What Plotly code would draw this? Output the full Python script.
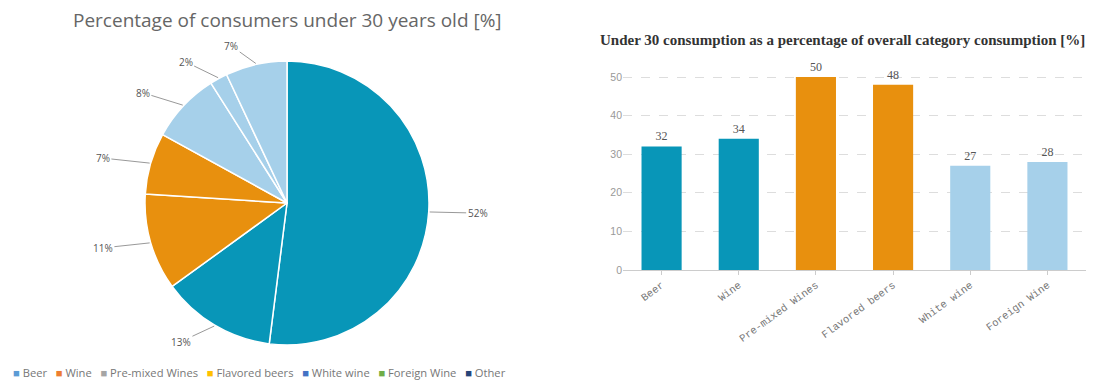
import math
import plotly.graph_objects as go

# Pie data
pie_labels = ["Beer", "Wine", "Pre-mixed Wines", "Flavored beers", "White wine", "Foreign Wine", "Other"]
pie_values = [52, 13, 11, 7, 8, 2, 7]
pie_colors = ["#0896b8", "#0896b8", "#e8900e", "#e8900e", "#a6d0ea", "#a6d0ea", "#a6d0ea"]

# Legend (as in reference)
legend_names = ["Beer", "Wine", "Pre-mixed Wines", "Flavored beers", "White wine", "Foreign Wine", "Other"]
legend_colors = ["#5b9bd5", "#ed7d31", "#a5a5a5", "#ffc000", "#4472c4", "#70ad47", "#264478"]

# Bar data
bar_cats = ["Beer", "Wine", "Pre-mixed Wines", "Flavored beers", "White wine", "Foreign Wine"]
bar_values = [32, 34, 50, 48, 27, 28]
bar_colors = ["#0896b8", "#0896b8", "#e8900e", "#e8900e", "#a6d0ea", "#a6d0ea"]

W, H = 1094, 382
HE = 376  # effective vertical extent used for paper-coordinate conversion
def px(x): return x / W
def py(y): return 1 - y / HE

# pie geometry (pixels)
CX, CY, R = 287, 203, 142

fig = go.Figure()

fig.add_trace(go.Pie(
    labels=pie_labels, values=pie_values, sort=False, direction="clockwise", rotation=0,
    marker=dict(colors=pie_colors, line=dict(color="white", width=1.5)),
    textinfo="none", showlegend=False, hoverinfo="label+value",
    domain=dict(x=[px(CX - R), px(CX + R)], y=[py(CY + R), py(CY - R)]),
))

fig.add_trace(go.Bar(
    x=bar_cats, y=bar_values, marker=dict(color=bar_colors, line=dict(width=0)),
    text=bar_values, textposition="outside", cliponaxis=False,
    textfont=dict(size=12, color="#555", family="Liberation Serif"),
    outsidetextfont=dict(size=12, color="#555", family="Liberation Serif"),
    showlegend=False,
))

# outside pie labels with leader lines, placed at each slice's mid-angle
annotations = []
total = sum(pie_values)
cum = 0
for v in pie_values:
    mid = (cum + v / 2) / total * 2 * math.pi
    cum += v
    s, c = math.sin(mid), math.cos(mid)
    ex, ey = CX + (R + 1) * s, CY - (R + 1) * c
    annotations.append(dict(
        text=f"{v}%", x=px(ex), y=py(ey), xref="paper", yref="paper",
        showarrow=True, arrowhead=0, arrowwidth=1, arrowcolor="#999",
        ax=30 * s + math.copysign(18, s), ay=-18 * c, standoff=0,
        font=dict(size=10, color="#555", family="Open Sans"),
    ))

legend_text = "&nbsp;&nbsp;&nbsp;".join(
    f'<span style="color:{c}">■</span> {n}' for n, c in zip(legend_names, legend_colors)
)

annotations += [
    dict(text="Percentage of consumers under 30 years old [%]", x=px(287), y=py(20),
         xref="paper", yref="paper", showarrow=False, xanchor="center", yanchor="middle",
         font=dict(size=19, color="#666", family="Open Sans")),
    dict(text="<b>Under 30 consumption as a percentage of overall category consumption [%]</b>",
         x=px(842), y=py(40), xref="paper", yref="paper", showarrow=False,
         xanchor="center", yanchor="middle",
         font=dict(size=15, color="#333", family="Liberation Serif")),
    dict(text=legend_text, x=px(12), y=py(372), xref="paper", yref="paper", showarrow=False,
         xanchor="left", yanchor="middle", borderpad=0,
         font=dict(size=11.2, color="#777", family="Open Sans")),
]

Y0, Y50 = 270, 77
ytop = Y0 - (Y0 - Y50) * 53 / 50
fig.update_layout(
    width=W, height=H, margin=dict(l=0, r=0, t=0, b=0),
    paper_bgcolor="white", plot_bgcolor="white",
    bargap=0.48, showlegend=False,
    xaxis=dict(domain=[px(623), px(1086)], showgrid=False,
               showline=True, linecolor="#ccc", ticks="outside", ticklen=4, tickcolor="#ccc",
               tickangle=-36, tickfont=dict(size=10.5, color="#777", family="Liberation Mono")),
    yaxis=dict(domain=[py(Y0), py(ytop)], range=[0, 53],
               tickvals=[0, 10, 20, 30, 40, 50], showgrid=True, gridcolor="#ddd", griddash="dash",
               zeroline=False, showline=False,
               tickfont=dict(size=10.5, color="#999", family="Liberation Sans")),
    annotations=annotations,
)

fig.write_html("out.html", config={"displayModeBar": False},
               post_script="document.body.style.margin='0';")
